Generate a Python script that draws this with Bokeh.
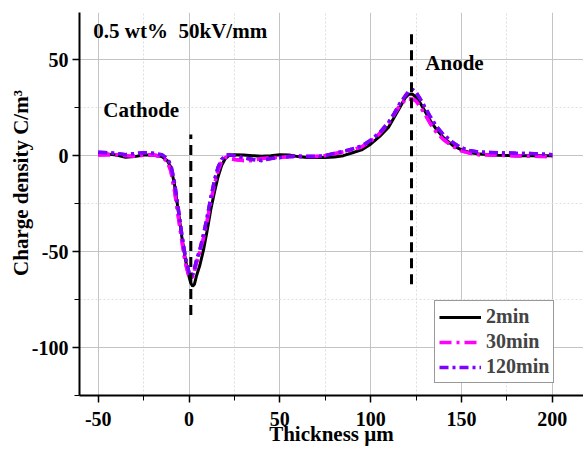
from bokeh.plotting import figure
from bokeh.models import (Range1d, SingleIntervalTicker, Label, Legend, LegendItem,
                          ColumnDataSource, CustomJSTickFormatter)
from bokeh.embed import file_html
from bokeh.resources import INLINE

# ---- data ----
thickness = [-50, -45, -40, -35, -30, -25, -20, -15, -12, -10, -8, -6, -4, -2, 0, 1, 2, 3, 4,
             6, 8, 10, 12, 14, 16, 18, 20, 22, 25, 30, 35, 40, 45, 50, 55, 60, 65, 70, 75,
             80, 85, 90, 95, 100, 105, 110, 113, 116, 119, 121, 123, 125, 127, 130, 133,
             136, 140, 145, 150, 155, 160, 170, 180, 190, 200]

rho_2min = [1.0, 0.8, 0.3, -0.8, -0.5, 0.3, 0.3, -0.5, -2.5, -6, -15, -28, -42, -54, -63, -66.5,
            -68, -67, -63, -57, -49, -39, -28, -19, -11, -5, -1.5, 0, 0.5, 0.3, 0, -0.3, 0,
            0.5, 0.3, -0.5, -1, -1, -1, -0.7, 0, 1.5, 3, 6, 10, 15, 20, 25, 30, 32, 32,
            30.5, 28, 23, 18, 14, 9.5, 5.5, 3, 1.5, 0.8, 0.2, 0, 0, 0]

rho_30min = [0.3, 0.5, 0.5, 0, -0.3, 0.2, 0.5, -0.5, -3, -8, -18, -31, -44, -56, -63, -64,
             -63, -60, -56, -50, -43, -34, -24, -15, -8, -3, -1, -1.5, -2, -2.5, -2.5, -1.5,
             -1, -1, -0.5, -0.5, -0.5, -0.5, 0, 1, 2, 3, 4.5, 7.5, 11.5, 17, 21.5, 26, 29,
             29.5, 29.5, 28.5, 26, 21.5, 16.5, 12.5, 8.5, 5, 2.5, 1.2, 0.5, 0.2, 0, -0.3, -0.5]

rho_120min = [1.8, 1.5, 1.2, 0.5, 1, 1.5, 1.2, 0.5, -1.5, -5, -14, -27, -41, -53, -61, -63,
              -62, -59, -55, -49, -41, -32, -22, -13, -6, -2, 0, 0.5, 0, -1, -2, -2.5, -1.5,
              -1, -0.5, -0.3, -0.5, -0.5, 0, 1.2, 2.2, 3.5, 5, 8, 12, 17.5, 22, 27, 31, 33.5,
              34.5, 33, 30, 25, 20, 15.5, 11, 7, 4, 2.5, 1.8, 1.5, 1.2, 1, 0.5]

series_names = ["2min", "30min", "120min"]

electrode_x = [1, 122.5]
electrode_y0 = [-83, -67]
electrode_y1 = [11, 65]

FONT = "Liberation Serif"

p = figure(width=583, height=453, output_backend="svg", toolbar_location=None,
           x_range=Range1d(-60.3, 217.2), y_range=Range1d(-125, 74.6),
           min_border_left=79, min_border_right=0, min_border_top=12, min_border_bottom=58)
p.outline_line_color = None
p.background_fill_color = "white"

fmt = CustomJSTickFormatter(code="return tick.toString();")
for ax in (p.xaxis[0], p.yaxis[0]):
    ax.ticker = SingleIntervalTicker(interval=50, num_minor_ticks=2)
    ax.formatter = fmt
    ax.axis_line_width = 2
    ax.axis_line_color = "black"
    ax.major_tick_line_width = 1.5
    ax.major_tick_out = 7
    ax.major_tick_in = 0
    ax.minor_tick_out = 5
    ax.minor_tick_in = 0
    ax.minor_tick_line_width = 1
    ax.major_label_text_font = FONT
    ax.major_label_text_font_style = "bold"
    ax.major_label_text_font_size = "20px"
    ax.major_label_text_color = "black"
    ax.axis_label_text_font = FONT
    ax.axis_label_text_font_style = "bold"
    ax.axis_label_text_font_size = "21px"
    ax.axis_label_text_color = "black"

p.xaxis.axis_label = "Thickness \u00b5m"
p.yaxis.axis_label = "\u00a0" * 8 + "Charge density C/m\u00b3"
p.xaxis.major_label_standoff = 9
p.yaxis.major_label_standoff = 4
p.xaxis.axis_label_standoff = -7
p.yaxis.axis_label_standoff = -4

for g in (p.xgrid[0], p.ygrid[0]):
    g.grid_line_color = "#c4c4c4"
    g.grid_line_width = 1
    g.minor_grid_line_color = "#dedede"
    g.minor_grid_line_dash = "2 2"
    g.minor_grid_line_width = 1

src = ColumnDataSource(dict(x=thickness, a=rho_2min, b=rho_30min, c=rho_120min))

p.line("x", "b", source=src, line_color="#ff00ff", line_width=3.5, line_dash="12 5 3 5")
p.line("x", "c", source=src, line_color="#8000ff", line_width=3.5, line_dash="9 4 3 4")
r_a = p.line("x", "a", source=src, line_color="black", line_width=3)
r_b = p.line("x", "b", source=src, line_color="#ff00ff", line_width=3.5, line_dash="12 5 3 5")
r_c = p.line("x", "c", source=src, line_color="#8000ff", line_width=3.5, line_dash="9 4 3 4")

p.segment(x0=electrode_x, y0=electrode_y0, x1=electrode_x, y1=electrode_y1,
          line_color="black", line_width=3, line_dash="10 6")

legend = Legend(items=[LegendItem(label=series_names[0], renderers=[r_a]),
                       LegendItem(label=series_names[1], renderers=[r_b]),
                       LegendItem(label=series_names[2], renderers=[r_c])],
                location=(355, 12))
legend.label_text_font = FONT
legend.label_text_font_style = "bold"
legend.label_text_font_size = "20px"
legend.glyph_width = 42
legend.glyph_height = 22
legend.label_height = 22
legend.label_standoff = 5
legend.spacing = 2
legend.padding = 4
legend.margin = 0
legend.border_line_color = "#333333"
legend.border_line_width = 1
legend.background_fill_alpha = 1
p.add_layout(legend)

for txt, x, y in (("0.5 wt%\u00a0 50kV/mm", -52.7, 64.8), ("Cathode", -47.2, 23.8), ("Anode", 130.1, 48.5)):
    p.add_layout(Label(x=x, y=y, text=txt, text_font=FONT, text_font_style="bold",
                       text_font_size="21px", text_color="black", text_baseline="alphabetic"))

open("out.html", "w").write(file_html(p, INLINE))
